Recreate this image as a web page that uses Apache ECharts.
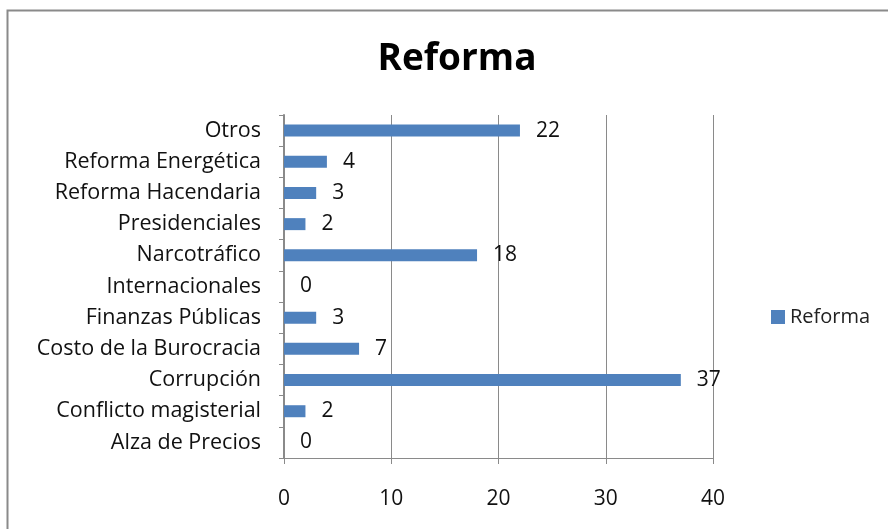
<!DOCTYPE html>
<html>
<head>
<meta charset="utf-8">
<script src="https://cdn.jsdelivr.net/npm/echarts@6/dist/echarts.min.js"></script>
<style>
  html, body { margin: 0; padding: 0; background: #fff; }
  #chart { width: 888px; height: 529px; }
</style>
</head>
<body>
<div id="chart"></div>
<script>
// categories listed bottom to top, as the category axis draws them
const categories = [
    'Alza de Precios',
    'Conflicto magisterial',
    'Corrupción',
    'Costo de la Burocracia',
    'Finanzas Públicas',
    'Internacionales',
    'Narcotráfico',
    'Presidenciales',
    'Reforma Hacendaria',
    'Reforma Energética',
    'Otros',
];
const values = [0, 2, 37, 7, 3, 0, 18, 2, 3, 4, 22];
const xTicks = [0, 10, 20, 30, 40];

const font = 'Open Sans';

const chart = echarts.init(document.getElementById('chart'));

const option = {
    animation: false,
    textStyle: {fontFamily: font},
    title: {
        text: 'Reforma',
        left: 452,
        top: 36,
        textAlign: 'center',
        textStyle: {fontSize: 37, fontWeight: 'bold', color: '#000', fontFamily: font},
    },
    legend: {
        data: ['Reforma'],
        left: 766,
        top: 302,
        itemWidth: 14,
        itemHeight: 14,
        itemGap: 5,
        icon: 'rect',
        textStyle: {fontSize: 20, color: '#222', fontFamily: font},
    },
    graphic: [
        {
            type: 'rect',
            shape: {x: 7.5, y: 10.5, width: 900, height: 600},
            style: {fill: 'none', stroke: '#8a8a8a', lineWidth: 2},
            silent: true,
        },
    ],
    grid: {left: 284, right: 175, top: 115, bottom: 71},
    xAxis: {
        type: 'value',
        min: xTicks[0],
        max: xTicks[xTicks.length - 1],
        interval: 10,
        axisLine: {show: true, lineStyle: {color: '#8a8a8a'}},
        axisTick: {show: true, length: 6, lineStyle: {color: '#8a8a8a'}},
        axisLabel: {fontSize: 21, color: '#111', margin: 31},
        splitLine: {show: true, lineStyle: {color: '#8a8a8a'}},
    },
    yAxis: {
        type: 'category',
        data: categories,
        axisLine: {show: true, lineStyle: {color: '#8a8a8a', width: 2}},
        axisTick: {show: true, length: 5, lineStyle: {color: '#8a8a8a'}},
        axisLabel: {fontSize: 21.5, color: '#111', margin: 23},
    },
    series: [
        {
            name: 'Reforma',
            type: 'bar',
            data: values,
            barWidth: 12,
            itemStyle: {color: '#4F81BD'},
            label: {
                show: true,
                position: 'right',
                distance: 16,
                fontSize: 21,
                color: '#111',
                fontFamily: font,
            },
        },
    ],
};

chart.setOption(option);
</script>
</body>
</html>
